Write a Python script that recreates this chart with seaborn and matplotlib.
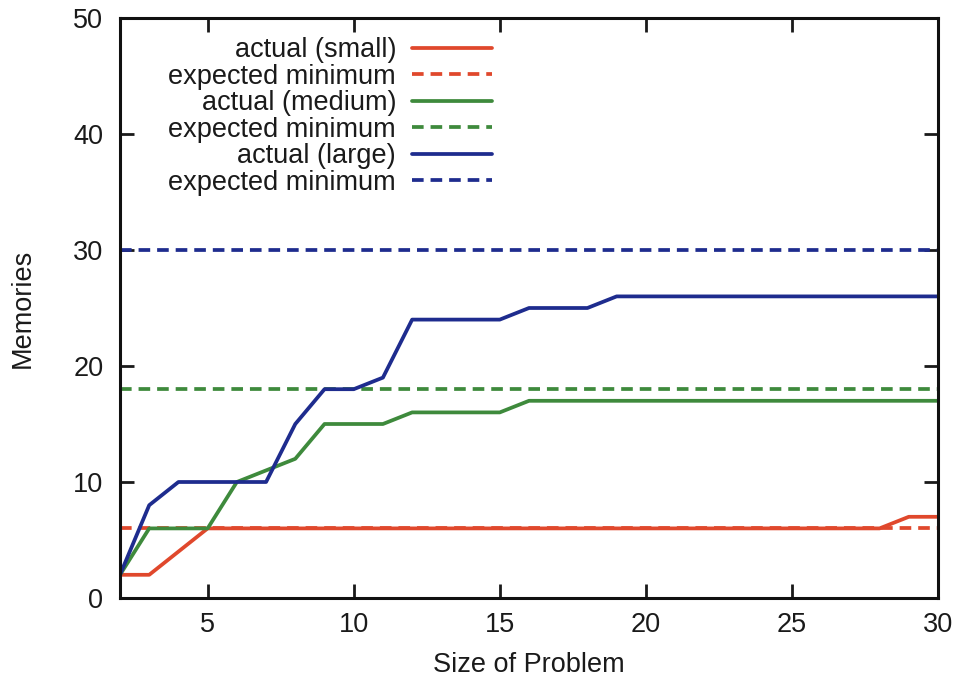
import matplotlib
matplotlib.use("Agg")
import matplotlib.pyplot as plt
import seaborn as sns
import numpy as np
import pandas as pd

sizes = list(range(2, 31))
actual_small = [2, 2, 4, 6, 6, 6, 6, 6, 6, 6, 6, 6, 6, 6, 6, 6, 6, 6, 6, 6,
                6, 6, 6, 6, 6, 6, 6, 7, 7]
actual_medium = [2, 6, 6, 6, 10, 11, 12, 15, 15, 15, 16, 16, 16, 16, 17, 17,
                 17, 17, 17, 17, 17, 17, 17, 17, 17, 17, 17, 17, 17]
actual_large = [2, 8, 10, 10, 10, 10, 15, 18, 18, 19, 24, 24, 24, 24, 25, 25,
                25, 26, 26, 26, 26, 26, 26, 26, 26, 26, 26, 26, 26]
expected_small = 6
expected_medium = 18
expected_large = 30

x_ticks = [5, 10, 15, 20, 25, 30]
y_ticks = [0, 10, 20, 30, 40, 50]

sns.set_style("ticks")
plt.rcParams["font.family"] = ["Liberation Sans", "DejaVu Sans"]
plt.rcParams["text.color"] = "#1a1a1a"
plt.rcParams["xtick.color"] = "#1a1a1a"
plt.rcParams["ytick.color"] = "#1a1a1a"
plt.rcParams["axes.labelcolor"] = "#1a1a1a"

red = "#E0482C"
green = "#3E8A3C"
blue = "#1E2C8E"

fig = plt.figure(figsize=(9.61, 6.82), dpi=100)
ax = fig.add_axes([120 / 961, 1 - 598 / 682, 818 / 961, 580 / 682])

fs = 19.5
lw = 2.7
dash = (3.1, 1.85)
series = [
    ("actual (small)", actual_small, expected_small, red),
    ("actual (medium)", actual_medium, expected_medium, green),
    ("actual (large)", actual_large, expected_large, blue),
]
for name, vals, expv, col in series:
    df = pd.DataFrame({"size": sizes, "mem": vals, "exp": [expv] * len(sizes)})
    sns.lineplot(data=df, x="size", y="mem", ax=ax, color=col, linewidth=lw,
                 label=name)
    sns.lineplot(data=df, x="size", y="exp", ax=ax, color=col,
                 linewidth=lw, label="expected minimum")
    ax.lines[-1].set_dashes(dash)

ax.set_xlim(2, 30)
ax.set_ylim(0, 50)
ax.set_xticks(x_ticks)
ax.set_yticks(y_ticks)
ax.tick_params(direction="in", length=10, width=2.0, labelsize=fs,
               top=True, right=True)
ax.tick_params(axis="x", pad=10)
ax.tick_params(axis="y", pad=12)
for s in ax.spines.values():
    s.set_linewidth(2.2)
    s.set_color("#111111")
ax.set_xlabel("Size of Problem", fontsize=fs, labelpad=10)
ax.set_ylabel("Memories", fontsize=fs, labelpad=27)

leg = ax.legend(loc="upper right", bbox_to_anchor=(0.455, 0.967),
                frameon=False, markerfirst=False, fontsize=fs,
                handlelength=2.95, labelspacing=0.02, handletextpad=0.6,
                borderpad=0, borderaxespad=0)

fig.savefig("out.png", dpi=100)
